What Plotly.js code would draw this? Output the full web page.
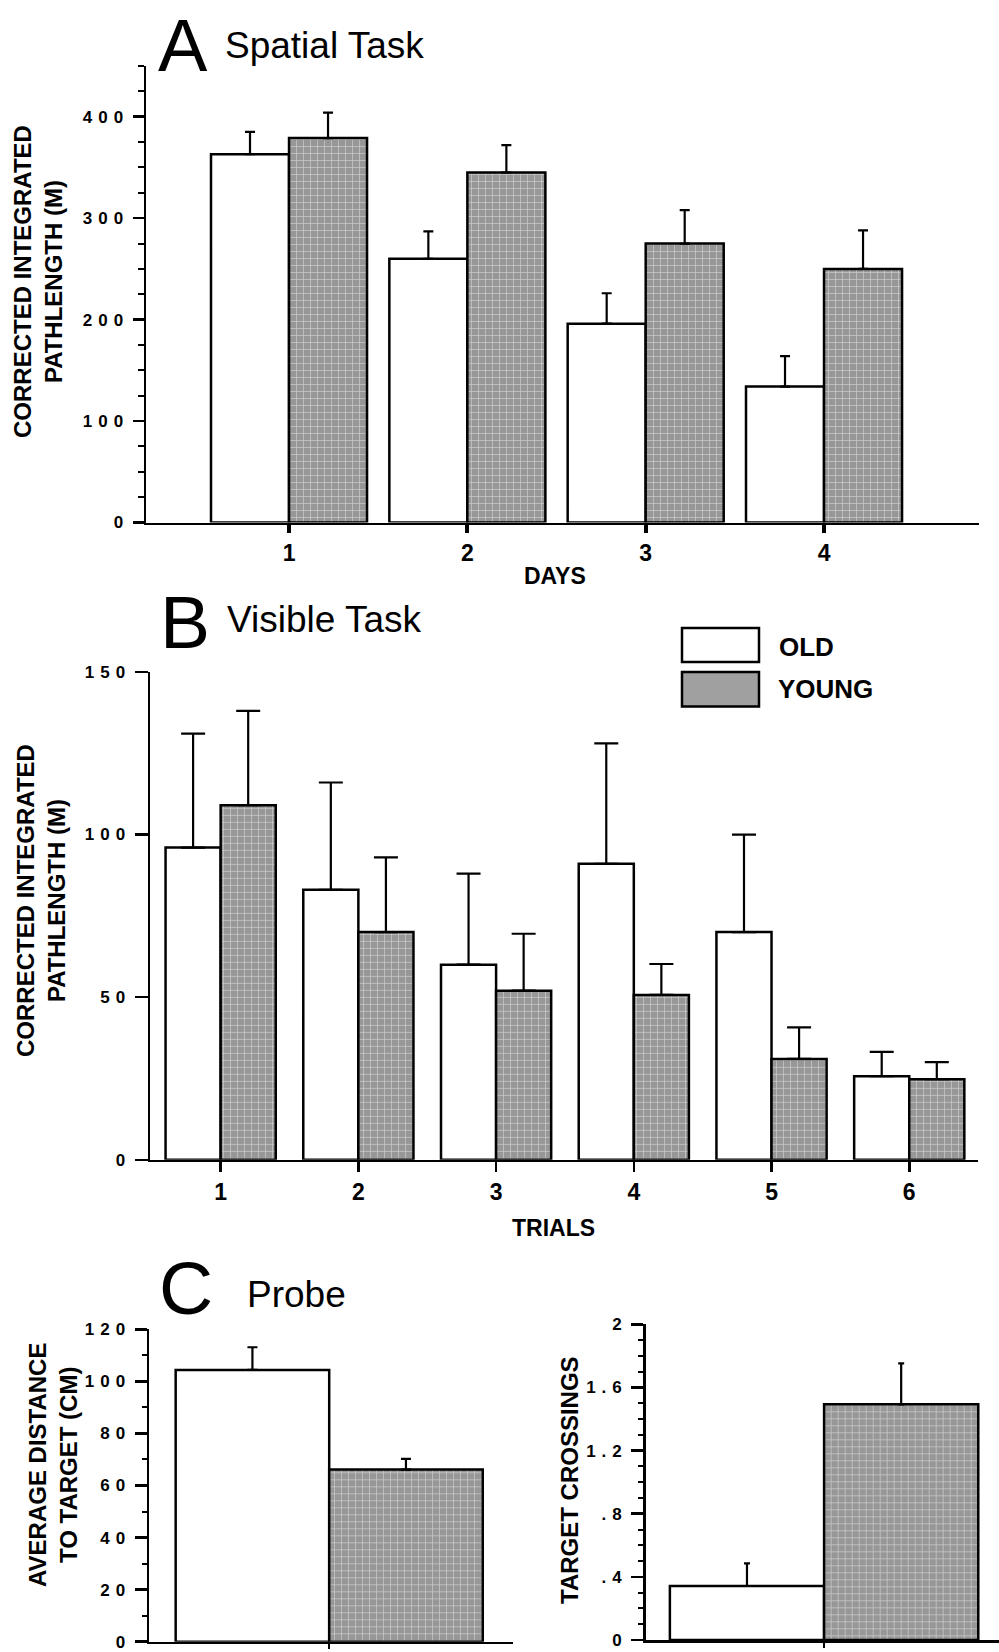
<!DOCTYPE html>
<html><head><meta charset="utf-8">
<script src="https://cdn.plot.ly/plotly-3.0.1.min.js"></script>
<style>
html,body{margin:0;padding:0;background:#fff;}
#chart{width:999px;height:1652px;}
#chart .yaxislayer-above text{letter-spacing:6px;}
</style></head><body><div id="chart"></div><script>
// ---------- data ----------
const groupNames = ['OLD', 'YOUNG'];

const days = [1, 2, 3, 4];
const dayLabels = ['1', '2', '3', '4'];
const spatialOld = [363, 260, 196, 134];
const spatialOldSem = [22, 27, 30, 30];
const spatialYoung = [379, 345, 275, 250];
const spatialYoungSem = [25, 27, 33, 38];

const trials = [1, 2, 3, 4, 5, 6];
const trialLabels = ['1', '2', '3', '4', '5', '6'];
const visibleOld = [96, 83, 60, 91, 70, 25.7];
const visibleOldSem = [35, 33, 28, 37, 30, 7.5];
const visibleYoung = [109, 70, 52, 50.7, 31, 24.8];
const visibleYoungSem = [29, 23, 17.5, 9.5, 9.7, 5.2];

const probeX = [0];
const distanceOld = [104.4];
const distanceOldSem = [8.7];
const distanceYoung = [66.1];
const distanceYoungSem = [4.1];
const crossingsOld = [0.342];
const crossingsOldSem = [0.144];
const crossingsYoung = [1.493];
const crossingsYoungSem = [0.26];
const crossTickVals = [0, 0.4, 0.8, 1.2, 1.6, 2];
const crossTickText = ['0', '.4', '.8', '1.2', '1.6', '2'];

const titles = {
  spatial: 'Spatial Task', visible: 'Visible Task', probe: 'Probe',
  pathY: 'CORRECTED INTEGRATED<br>PATHLENGTH (M)',
  daysX: 'DAYS', trialsX: 'TRIALS',
  distY: 'AVERAGE DISTANCE<br>TO TARGET (CM)', crossY: 'TARGET CROSSINGS'
};

// ---------- styling ----------
const FONT = 'Liberation Sans, Arial, Helvetica, sans-serif';
const GRAY = '#a0a0a0';
const W = 999, H = 1652;
const px = v => v / W;
const py = v => 1 - v / H;

function barTrace(x, y, sem, who, xa, ya, w, cap) {
  const young = who === groupNames[1];
  return {
    type: 'bar', name: who, x: x, y: y, xaxis: xa, yaxis: ya,
    width: w, offset: young ? 0 : -w,
    showlegend: false, hoverinfo: 'skip',
    marker: young ? {
      color: GRAY, line: {color: 'black', width: 2.5},
      pattern: {shape: '+', bgcolor: '#979797', fgcolor: '#cfcfcf', size: 7, solidity: 0.18}
    } : {color: 'white', line: {color: 'black', width: 2.5}},
    error_y: {type: 'data', symmetric: false, array: sem, arrayminus: sem.map(() => 0),
      color: 'black', thickness: 2.2, width: cap}
  };
}

const data = [
  barTrace(days, spatialOld, spatialOldSem, 'OLD', 'x', 'y', 0.4375, 5),
  barTrace(days, spatialYoung, spatialYoungSem, 'YOUNG', 'x', 'y', 0.4375, 5),
  barTrace(trials, visibleOld, visibleOldSem, 'OLD', 'x2', 'y2', 0.4, 12),
  barTrace(trials, visibleYoung, visibleYoungSem, 'YOUNG', 'x2', 'y2', 0.4, 12),
  barTrace(probeX, distanceOld, distanceOldSem, 'OLD', 'x3', 'y3', 0.426, 5),
  barTrace(probeX, distanceYoung, distanceYoungSem, 'YOUNG', 'x3', 'y3', 0.426, 5),
  barTrace(probeX, crossingsOld, crossingsOldSem, 'OLD', 'x4', 'y4', 0.424, 3),
  barTrace(probeX, crossingsYoung, crossingsYoungSem, 'YOUNG', 'x4', 'y4', 0.424, 3)
];

const axBase = {
  showgrid: false, zeroline: false, showline: true, linecolor: 'black', linewidth: 2.5,
  ticks: 'outside', tickcolor: 'black', fixedrange: true
};
const yTickFont = {family: FONT, size: 17, weight: 'bold', color: 'black'};
const xTickFont = {family: FONT, size: 23, weight: 'bold', color: 'black'};
const titleFont = {family: FONT, size: 24, weight: 'bold', color: 'black'};

const layout = {
  width: W, height: H, margin: {l: 0, r: 0, t: 0, b: 0},
  paper_bgcolor: 'white', plot_bgcolor: 'rgba(0,0,0,0)',
  barmode: 'group', showlegend: false,
  font: {family: FONT, color: 'black'},
  xaxis: Object.assign({}, axBase, {
    domain: [px(146), px(979)], range: [0.198, 4.869], anchor: 'y',
    tickmode: 'array', tickvals: days, ticktext: dayLabels,
    ticklen: 8, tickwidth: 4, tickfont: xTickFont
  }),
  yaxis: Object.assign({}, axBase, {
    domain: [py(522.5), py(66)], range: [0, 450], anchor: 'x',
    tick0: 0, dtick: 100, ticklen: 11, tickwidth: 2.5, tickfont: yTickFont,
    minor: {tickmode: 'linear', tick0: 0, dtick: 25, ticks: 'outside', ticklen: 6, tickwidth: 2, tickcolor: 'black'}
  }),
  xaxis2: Object.assign({}, axBase, {
    domain: [px(150), px(977.7)], range: [0.487, 6.497], anchor: 'y2',
    tickmode: 'array', tickvals: trials, ticktext: trialLabels,
    ticklen: 10, tickwidth: 2.5, tickfont: xTickFont
  }),
  yaxis2: Object.assign({}, axBase, {
    domain: [py(1159.8), py(671.9)], range: [0, 150], anchor: 'x2',
    tick0: 0, dtick: 50, ticklen: 13, tickwidth: 2.5, tickfont: yTickFont
  }),
  xaxis3: Object.assign({}, axBase, {
    domain: [px(149), px(513)], range: [-0.5, 0.51], anchor: 'y3',
    tickmode: 'array', tickvals: probeX, showticklabels: false,
    ticklen: 5, tickwidth: 2
  }),
  yaxis3: Object.assign({}, axBase, {
    domain: [py(1641.7), py(1329.3)], range: [0, 120], anchor: 'x3',
    tick0: 0, dtick: 20, ticklen: 12, tickwidth: 2.5, tickfont: yTickFont,
    minor: {tickmode: 'linear', tick0: 0, dtick: 10, ticks: 'outside', ticklen: 5, tickwidth: 2, tickcolor: 'black'}
  }),
  xaxis4: Object.assign({}, axBase, {
    domain: [px(645.7), 1], range: [-0.4905, 0.481], anchor: 'y4',
    tickmode: 'array', tickvals: probeX, showticklabels: false,
    ticklen: 5, tickwidth: 2
  }),
  yaxis4: Object.assign({}, axBase, {
    domain: [py(1640), py(1324.3)], range: [0, 2], anchor: 'x4',
    tickmode: 'array', tickvals: crossTickVals, ticktext: crossTickText,
    ticklen: 12, tickwidth: 2.5, tickfont: yTickFont,
    minor: {tickmode: 'linear', tick0: 0, dtick: 0.1, ticks: 'outside', ticklen: 5, tickwidth: 2, tickcolor: 'black'}
  }),
  shapes: [
    {type: 'rect', xref: 'paper', yref: 'paper', x0: px(682), x1: px(759), y0: py(662), y1: py(628),
      fillcolor: 'white', line: {color: 'black', width: 2.5}},
    {type: 'rect', xref: 'paper', yref: 'paper', x0: px(682), x1: px(759), y0: py(706.5), y1: py(672),
      fillcolor: GRAY, line: {color: 'black', width: 2.5}}
  ],
  annotations: [
    {text: 'A', x: px(156), y: py(45), xanchor: 'left', yanchor: 'middle', font: {family: FONT, size: 74}},
    {text: titles.spatial, x: px(223), y: py(46), xanchor: 'left', yanchor: 'middle', font: {family: FONT, size: 37}},
    {text: 'B', x: px(158), y: py(622), xanchor: 'left', yanchor: 'middle', font: {family: FONT, size: 75}},
    {text: titles.visible, x: px(225), y: py(620), xanchor: 'left', yanchor: 'middle', font: {family: FONT, size: 37}},
    {text: 'C', x: px(157), y: py(1288), xanchor: 'left', yanchor: 'middle', font: {family: FONT, size: 75}},
    {text: titles.probe, x: px(245), y: py(1294), xanchor: 'left', yanchor: 'middle', font: {family: FONT, size: 37}},
    {text: groupNames[0], x: px(777), y: py(647), xanchor: 'left', yanchor: 'middle', font: {family: FONT, size: 26, weight: 'bold'}},
    {text: groupNames[1], x: px(776), y: py(689), xanchor: 'left', yanchor: 'middle', font: {family: FONT, size: 26, weight: 'bold'}},
    {text: titles.pathY, x: px(38), y: py(282), textangle: -90, xanchor: 'center', yanchor: 'middle', font: titleFont},
    {text: titles.pathY, x: px(41), y: py(901), textangle: -90, xanchor: 'center', yanchor: 'middle', font: titleFont},
    {text: titles.distY, x: px(53), y: py(1465), textangle: -90, xanchor: 'center', yanchor: 'middle', font: titleFont},
    {text: titles.crossY, x: px(569), y: py(1480), textangle: -90, xanchor: 'center', yanchor: 'middle', font: titleFont},
    {text: titles.daysX, x: px(555), y: py(576), xanchor: 'center', yanchor: 'middle', font: {family: FONT, size: 23, weight: 'bold'}},
    {text: titles.trialsX, x: px(553), y: py(1228), xanchor: 'center', yanchor: 'middle', font: {family: FONT, size: 23, weight: 'bold'}}
  ].map(a => Object.assign({xref: 'paper', yref: 'paper', showarrow: false}, a))
};

Plotly.newPlot('chart', data, layout, {displayModeBar: false, staticPlot: true});
</script></body></html>
